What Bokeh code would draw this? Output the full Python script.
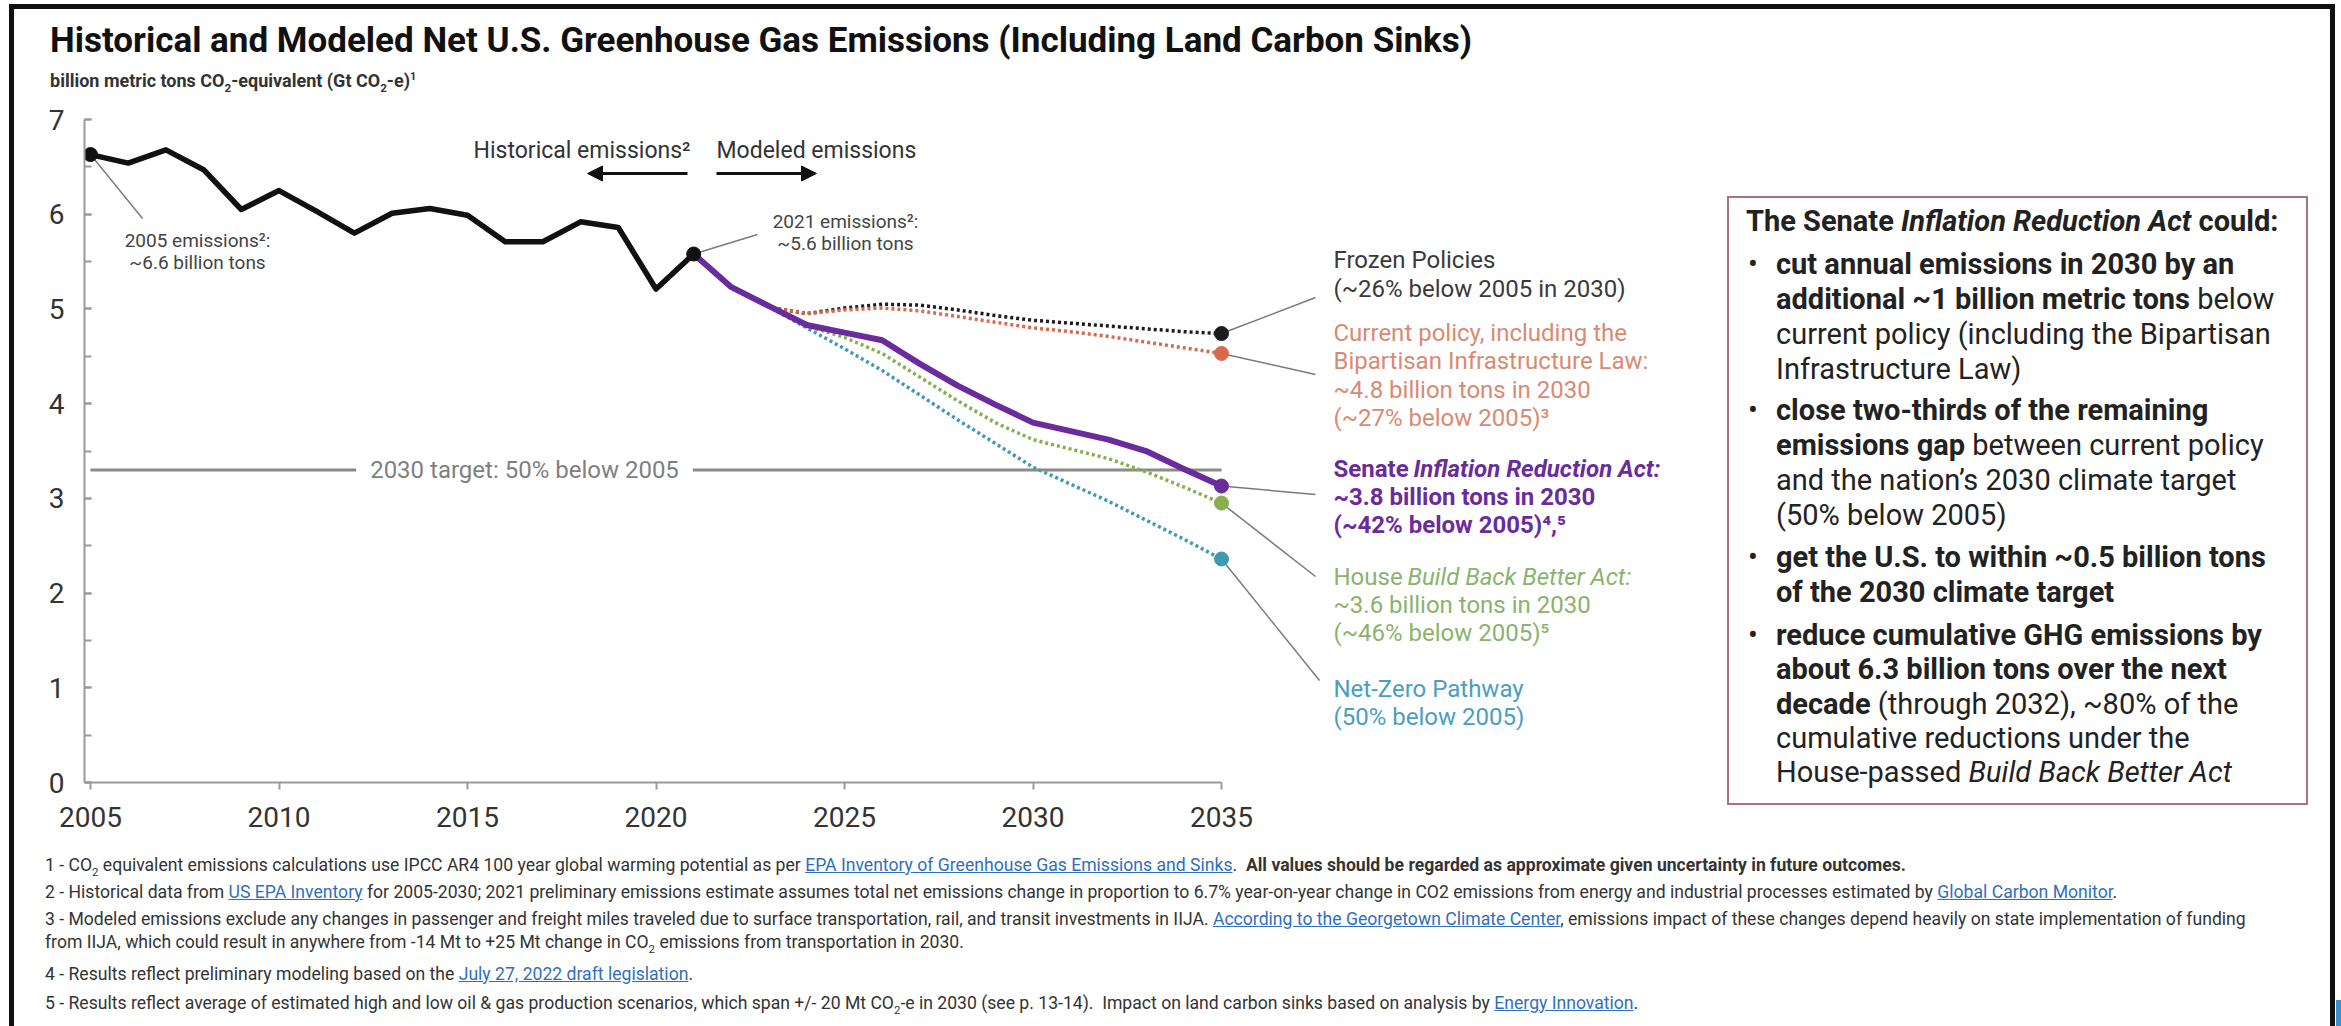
from bokeh.plotting import figure
from bokeh.models import Range1d, SingleIntervalTicker, Label, Arrow, NormalHead, Div
from bokeh.layouts import column, row
from bokeh.core.properties import value
from bokeh.embed import file_html
from bokeh.resources import INLINE

# ---------------------------------------------------------------- data
years_hist = list(range(2005, 2022))
hist_emissions = [6.63, 6.54, 6.68, 6.47, 6.05, 6.25, 6.03, 5.80, 6.01,
                  6.06, 5.99, 5.71, 5.71, 5.92, 5.86, 5.21, 5.58]

years_model = list(range(2021, 2036))
frozen_policies = [5.58, 5.23, 5.02, 4.95, 5.01, 5.05, 5.04, 4.99, 4.93,
                   4.88, 4.85, 4.82, 4.79, 4.76, 4.74]
current_policy = [5.58, 5.23, 5.02, 4.95, 4.99, 5.01, 4.98, 4.92, 4.86,
                  4.80, 4.76, 4.71, 4.65, 4.59, 4.53]
senate_ira = [5.58, 5.23, 5.03, 4.83, 4.75, 4.67, 4.42, 4.19, 3.99,
              3.80, 3.71, 3.62, 3.50, 3.31, 3.13]
house_bbb = [5.58, 5.23, 5.03, 4.82, 4.70, 4.53, 4.28, 4.03, 3.80,
             3.62, 3.52, 3.42, 3.28, 3.12, 2.95]
net_zero = [5.58, 5.23, 5.02, 4.80, 4.58, 4.35, 4.09, 3.83, 3.58,
            3.33, 3.15, 2.97, 2.77, 2.57, 2.36]

target_2030 = 3.3
x_tick_interval = 5
y_tick_interval = 1

FONT = "Roboto"
CSS_FONT = "'Roboto', sans-serif"

# ---------------------------------------------------------------- page geometry
PAGE_W, PAGE_H = 2341, 1026
HEADER_H, MID_H = 95, 750
FOOT_H = PAGE_H - HEADER_H - MID_H
LEFT_W, CHART_W = 14, 1706
BOX_W = PAGE_W - LEFT_W - CHART_W

X0_PX, PX_PER_YEAR = 90, 37.7        # page pixel of 2005 and pixels per year
Y0_PX, PX_PER_UNIT = 782, 94.71      # page pixel of 0 Gt and pixels per Gt

frame_left = 84                      # y axis line
frame_right = LEFT_W + CHART_W - 4
frame_top = HEADER_H
frame_bottom = Y0_PX                 # x axis line


def dx(px):
    return 2005 + (px - X0_PX) / PX_PER_YEAR


def dy(py):
    return (Y0_PX - py) / PX_PER_UNIT


p = figure(width=CHART_W, height=MID_H,
           x_range=Range1d(dx(frame_left), dx(frame_right)),
           y_range=Range1d(dy(frame_bottom), dy(frame_top)),
           output_backend="svg", toolbar_location=None,
           min_border_left=frame_left - LEFT_W, min_border_right=LEFT_W + CHART_W - frame_right,
           min_border_top=0, min_border_bottom=HEADER_H + MID_H - frame_bottom,
           outline_line_color=None, background_fill_color="white",
           border_fill_color="white", margin=0)
p.grid.visible = False

AXIS_COLOR = "#9a9a9a"
LABEL_COLOR = "#333333"

xa = p.xaxis[0]
xa.bounds = (dx(frame_left), years_model[-1])
xa.ticker = SingleIntervalTicker(interval=x_tick_interval, num_minor_ticks=0)
xa.axis_line_color = AXIS_COLOR
xa.axis_line_width = 2
xa.major_tick_line_color = AXIS_COLOR
xa.major_tick_line_width = 2
xa.major_tick_in = 0
xa.major_tick_out = 7
xa.minor_tick_line_color = None
xa.major_label_standoff = 17
xa.major_label_text_font = FONT
xa.major_label_text_font_size = "28px"
xa.major_label_text_color = LABEL_COLOR

ya = p.yaxis[0]
ya.bounds = (0, 7)
ya.ticker = SingleIntervalTicker(interval=y_tick_interval, num_minor_ticks=2)
ya.axis_line_color = AXIS_COLOR
ya.axis_line_width = 2
ya.major_tick_line_color = AXIS_COLOR
ya.major_tick_line_width = 2
ya.major_tick_in = 7
ya.major_tick_out = 0
ya.minor_tick_line_color = AXIS_COLOR
ya.minor_tick_line_width = 2
ya.minor_tick_in = 7
ya.minor_tick_out = 0
ya.major_label_standoff = 20
ya.major_label_text_font = FONT
ya.major_label_text_font_size = "28px"
ya.major_label_text_color = LABEL_COLOR

# ---------------------------------------------------------------- 2030 target
p.line([years_hist[0], years_model[-1]], [target_2030, target_2030],
       line_color="#8a8a8a", line_width=3)
p.add_layout(Label(x=dx(524), y=target_2030, text="2030 target: 50% below 2005",
                   text_align="center", text_baseline="middle",
                   text_font=FONT, text_font_size="24px", text_color="#7f7f7f",
                   background_fill_color="white", padding=14))

# ---------------------------------------------------------------- scenarios
C_FROZEN, C_CURRENT, C_IRA, C_BBB, C_NZ = "#1c1c1c", "#d9694c", "#6a2c9c", "#85b04c", "#3d9ab5"
T_FROZEN, T_CURRENT, T_IRA, T_BBB, T_NZ = "#3a3a3a", "#d98a72", "#6a2c9c", "#8ab36c", "#4b9ec0"

for series, col in ((frozen_policies, C_FROZEN), (current_policy, C_CURRENT),
                    (house_bbb, C_BBB), (net_zero, C_NZ)):
    p.line(years_model, series, line_color=col, line_width=3.5, line_dash="3 3")

p.line(years_model, senate_ira, line_color=C_IRA, line_width=6, line_join="round")
p.line(years_hist, hist_emissions, line_color="#111111", line_width=5.5, line_join="round")

# ---------------------------------------------------------------- leader lines
end_year = years_model[-1]
leaders = [
    (years_hist[0], hist_emissions[0], 142, 218),
    (years_hist[-1], hist_emissions[-1], 757, 234),
    (end_year, frozen_policies[-1], 1315, 297),
    (end_year, current_policy[-1], 1315, 374),
    (end_year, senate_ira[-1], 1315, 494),
    (end_year, house_bbb[-1], 1315, 576),
    (end_year, net_zero[-1], 1319, 680),
]
p.segment(x0=[l[0] for l in leaders], y0=[l[1] for l in leaders],
          x1=[dx(l[2]) for l in leaders], y1=[dy(l[3]) for l in leaders],
          line_color="#7a7a7a", line_width=1.5)

# ---------------------------------------------------------------- end points
p.scatter([years_hist[0], years_hist[-1]], [hist_emissions[0], hist_emissions[-1]],
          size=14, color="#111111")
p.scatter([end_year] * 5,
          [frozen_policies[-1], current_policy[-1], senate_ira[-1], house_bbb[-1], net_zero[-1]],
          size=14, color=[C_FROZEN, C_CURRENT, C_IRA, C_BBB, C_NZ])


def txt(px, py, s, size, color, style="normal", align="left"):
    p.text(x=[dx(px)], y=[dy(py)], text=[s], text_font=value(FONT),
           text_font_size=f"{size}px", text_color=color, text_font_style=style,
           text_align=align, text_baseline="middle")


# ---------------------------------------------------------------- period labels
txt(690, 150, "Historical emissions²", 23, "#333333", align="right")
txt(716, 150, "Modeled emissions", 23, "#333333")
head = dict(size=15, fill_color="#111111", line_color="#111111")
p.add_layout(Arrow(end=NormalHead(**head), x_start=dx(687), y_start=dy(173),
                   x_end=dx(587), y_end=dy(173), line_width=3, line_color="#111111"))
p.add_layout(Arrow(end=NormalHead(**head), x_start=dx(716), y_start=dy(173),
                   x_end=dx(816), y_end=dy(173), line_width=3, line_color="#111111"))

txt(197, 240, "2005 emissions²:", 19, "#444444", align="center")
txt(197, 262, "~6.6 billion tons", 19, "#444444", align="center")
txt(845, 221, "2021 emissions²:", 19, "#444444", align="center")
txt(845, 243, "~5.6 billion tons", 19, "#444444", align="center")

# ---------------------------------------------------------------- scenario labels
LX = 1333
txt(LX, 259, "Frozen Policies", 24, T_FROZEN)
txt(LX, 288, "(~26% below 2005 in 2030)", 24, T_FROZEN)

txt(LX, 332, "Current policy, including the", 24, T_CURRENT)
txt(LX, 360.5, "Bipartisan Infrastructure Law:", 24, T_CURRENT)
txt(LX, 389, "~4.8 billion tons in 2030", 24, T_CURRENT)
txt(LX, 417.5, "(~27% below 2005)³", 24, T_CURRENT)

txt(LX, 468, "Senate ", 24, T_IRA, style="bold")
txt(LX + 80, 468, "Inflation Reduction Act:", 24, T_IRA, style="bold italic")
txt(LX, 496, "~3.8 billion tons in 2030", 24, T_IRA, style="bold")
txt(LX, 524, "(~42% below 2005)⁴,⁵", 24, T_IRA, style="bold")

txt(LX, 576, "House ", 24, T_BBB)
txt(LX + 74, 576, "Build Back Better Act:", 24, T_BBB, style="italic")
txt(LX, 604, "~3.6 billion tons in 2030", 24, T_BBB)
txt(LX, 632.5, "(~46% below 2005)⁵", 24, T_BBB)

txt(LX, 688, "Net-Zero Pathway", 24, T_NZ)
txt(LX, 716, "(50% below 2005)", 24, T_NZ)


# ---------------------------------------------------------------- html helpers
def bar(x, y, w, h, color="#111111"):
    return (f'<div style="position:absolute;left:{x}px;top:{y}px;width:{w}px;'
            f'height:{h}px;background:{color}"></div>')


def line(x, baseline, content, size, color, weight="normal", style="normal"):
    top = baseline - 0.845 * size
    return (f'<div style="position:absolute;left:{x}px;top:{top:.1f}px;white-space:nowrap;'
            f'font-family:{CSS_FONT};font-size:{size}px;line-height:{size}px;color:{color};'
            f'font-weight:{weight};font-style:{style}">{content}</div>')


def panel(w, h, inner):
    return (f'<div style="position:relative;width:{w}px;height:{h}px;overflow:hidden;'
            f'background:white">{inner}</div>')


SUB2 = '<sub style="font-size:65%">2</sub>'

# ---------------------------------------------------------------- header
header_html = panel(PAGE_W, HEADER_H, "".join([
    bar(9, 4, 2326, 5), bar(9, 4, 5, HEADER_H - 4), bar(2330, 4, 5, HEADER_H - 4),
    line(50, 52.7, "Historical and Modeled Net U.S. Greenhouse Gas Emissions "
                   "(Including Land Carbon Sinks)", 35, "#111111", "bold"),
    line(50, 83.3, f'billion metric tons CO{SUB2}-equivalent (Gt CO{SUB2}-e)'
                   f'<sup style="font-size:60%">1</sup>', 18, "#333333", "bold"),
]))
header = Div(text=header_html, width=PAGE_W, height=HEADER_H, margin=0)

left_edge = Div(text=panel(LEFT_W, MID_H, bar(9, 0, 5, MID_H)),
                width=LEFT_W, height=MID_H, margin=0)

# ---------------------------------------------------------------- side box
BS = 29
bx0, by0 = LEFT_W + CHART_W, HEADER_H
box_lines = [
    (1746, 222, '<b>The Senate <i>Inflation Reduction Act</i> could:</b>', False),
    (1776, 265, '<b>cut annual emissions in 2030 by an</b>', True),
    (1776, 300, '<b>additional ~1 billion metric tons</b> below', False),
    (1776, 335, 'current policy (including the Bipartisan', False),
    (1776, 370, 'Infrastructure Law)', False),
    (1776, 411, '<b>close two-thirds of the remaining</b>', True),
    (1776, 446, '<b>emissions gap</b> between current policy', False),
    (1776, 481, 'and the nation’s 2030 climate target', False),
    (1776, 516, '(50% below 2005)', False),
    (1776, 558, '<b>get the U.S. to within ~0.5 billion tons</b>', True),
    (1776, 593, '<b>of the 2030 climate target</b>', False),
    (1776, 636, '<b>reduce cumulative GHG emissions by</b>', True),
    (1776, 670, '<b>about 6.3 billion tons over the next</b>', False),
    (1776, 705, '<b>decade</b> (through 2032), ~80% of the', False),
    (1776, 739, 'cumulative reductions under the', False),
    (1776, 773, 'House-passed <i>Build Back Better Act</i>', False),
]
box_parts = [
    f'<div style="position:absolute;left:{1727 - bx0}px;top:{196 - by0}px;width:581px;'
    f'height:609px;box-sizing:border-box;border:2px solid #a8747f"></div>',
    bar(2330 - bx0, 0, 5, MID_H),
]
for x, yc, content, bullet in box_lines:
    base = yc - by0 + 0.32 * BS
    if bullet:
        box_parts.append(line(1748 - bx0, base, "•", BS, "#222222"))
    box_parts.append(line(x - bx0, base, content, BS, "#222222"))
box = Div(text=panel(BOX_W, MID_H, "".join(box_parts)), width=BOX_W, height=MID_H, margin=0)


# ---------------------------------------------------------------- footnotes
def link(s):
    return f'<span style="color:#2f6fbf;text-decoration:underline">{s}</span>'


NOTE_SIZE = 17.6
notes = [
    (866, f'1 - CO{SUB2} equivalent emissions calculations use IPCC AR4 100 year global warming '
          f'potential as per {link("EPA Inventory of Greenhouse Gas Emissions and Sinks")}.&nbsp; '
          f'<b>All values should be regarded as approximate given uncertainty in future outcomes.</b>'),
    (893, f'2 - Historical data from {link("US EPA Inventory")} for 2005-2030; 2021 preliminary '
          f'emissions estimate assumes total net emissions change in proportion to 6.7% year-on-year '
          f'change in CO2 emissions from energy and industrial processes estimated by '
          f'{link("Global Carbon Monitor")}.'),
    (920, f'3 - Modeled emissions exclude any changes in passenger and freight miles traveled due to '
          f'surface transportation, rail, and transit investments in IIJA. '
          f'{link("According to the Georgetown Climate Center")}, emissions impact of these changes '
          f'depend heavily on state implementation of funding'),
    (943, f'from IIJA, which could result in anywhere from -14 Mt to +25 Mt change in CO{SUB2} '
          f'emissions from transportation in 2030.'),
    (975, f'4 - Results reflect preliminary modeling based on the '
          f'{link("July 27, 2022 draft legislation")}.'),
    (1004, f'5 - Results reflect average of estimated high and low oil &amp; gas production scenarios, '
           f'which span +/- 20 Mt CO{SUB2}-e in 2030 (see p. 13-14).&nbsp; Impact on land carbon sinks '
           f'based on analysis by {link("Energy Innovation")}.'),
]
fy0 = HEADER_H + MID_H
foot_parts = [bar(9, 0, 5, FOOT_H), bar(2330, 0, 5, FOOT_H), bar(2336, 1000 - fy0, 5, 26, "#3a8fd0")]
for yc, content in notes:
    foot_parts.append(line(45, yc - fy0 + 0.32 * NOTE_SIZE, content, NOTE_SIZE, "#333333"))
footer = Div(text=panel(PAGE_W, FOOT_H, "".join(foot_parts)), width=PAGE_W, height=FOOT_H, margin=0)

layout = column(header, row(left_edge, p, box, spacing=0, margin=0), footer, spacing=0, margin=0)

open("out.html", "w").write(file_html(layout, INLINE, title="Net U.S. Greenhouse Gas Emissions"))
